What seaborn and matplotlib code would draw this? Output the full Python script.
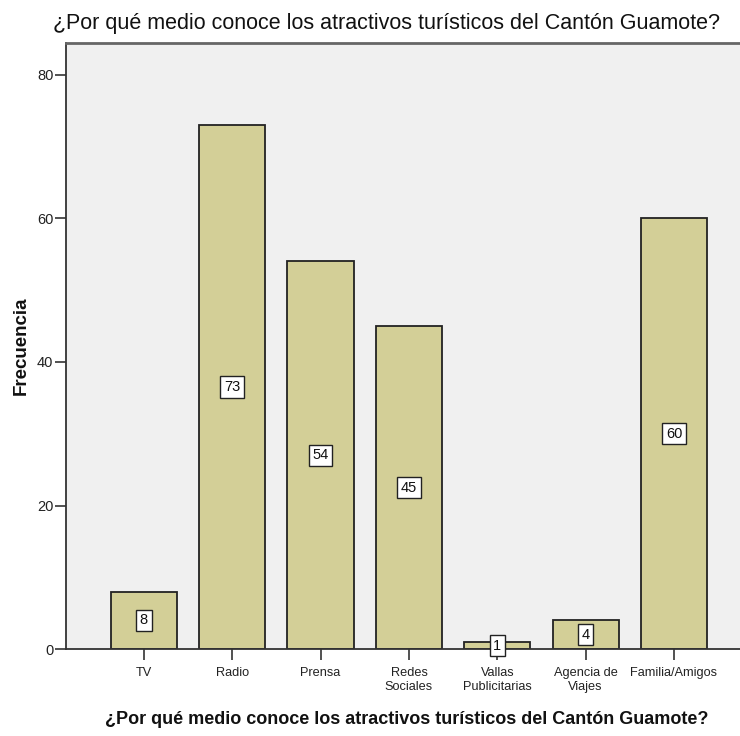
import matplotlib
matplotlib.use("Agg")
import matplotlib.pyplot as plt
import seaborn as sns
import pandas as pd

categorias = ["TV", "Radio", "Prensa", "Redes\nSociales", "Vallas\nPublicitarias",
              "Agencia de\nViajes", "Familia/Amigos"]
frecuencias = [8, 73, 54, 45, 1, 4, 60]
y_ticks = [0, 20, 40, 60, 80]

titulo = "¿Por qué medio conoce los atractivos turísticos del Cantón Guamote?"

sns.set_theme(style="white")
plt.rcParams["font.family"] = ["Liberation Sans", "DejaVu Sans"]

df = pd.DataFrame({"medio": categorias, "frecuencia": frecuencias})

fig = plt.figure(figsize=(7.4, 7.36), dpi=100)
ax = fig.add_axes([0.089, 0.118, 0.911, 0.824])
ax.set_facecolor("#F0F0F0")

sns.barplot(data=df, x="medio", y="frecuencia", color="#D3CF97", saturation=1,
            edgecolor="#222222", linewidth=1.3, width=0.75, ax=ax, zorder=2)

for cont in ax.containers:
    ax.bar_label(cont, labels=[str(v) for v in frecuencias], label_type="center",
                 fontsize=10.5, color="#111111",
                 bbox=dict(boxstyle="square,pad=0.25", facecolor="white",
                           edgecolor="#222222", linewidth=1.0), zorder=5)

ax.set_xlim(-0.883, 6.747)
ax.set_ylim(0, 84.46)
ax.set_yticks(y_ticks)
ax.set_yticklabels([str(t) for t in y_ticks], fontsize=10.5, color="#222222")
ax.tick_params(axis="y", direction="out", length=8, width=1.2, color="#333333", left=True, pad=1)
ax.tick_params(axis="x", direction="out", length=8, width=1.2, color="#333333", bottom=True,
               labelsize=9.2, labelcolor="#222222", pad=5)
for lbl in ax.get_xticklabels():
    lbl.set_linespacing(1.2)

for side in ["left", "bottom"]:
    ax.spines[side].set_color("#333333")
    ax.spines[side].set_linewidth(1.3)
ax.spines["top"].set_color("#666666")
ax.spines["top"].set_linewidth(2.0)
ax.spines["right"].set_visible(False)

ax.set_ylabel("Frecuencia", fontsize=13.5, fontweight="bold", color="#111111")
ax.yaxis.set_label_coords(-0.054, 0.50)
ax.set_xlabel(titulo, fontsize=13, fontweight="bold", color="#111111")
ax.xaxis.set_label_coords(0.505, -0.102)
fig.text(0.522, 0.968, titulo, ha="center", va="center", fontsize=15.5, color="#111111")

fig.savefig("out.png", dpi=100)
